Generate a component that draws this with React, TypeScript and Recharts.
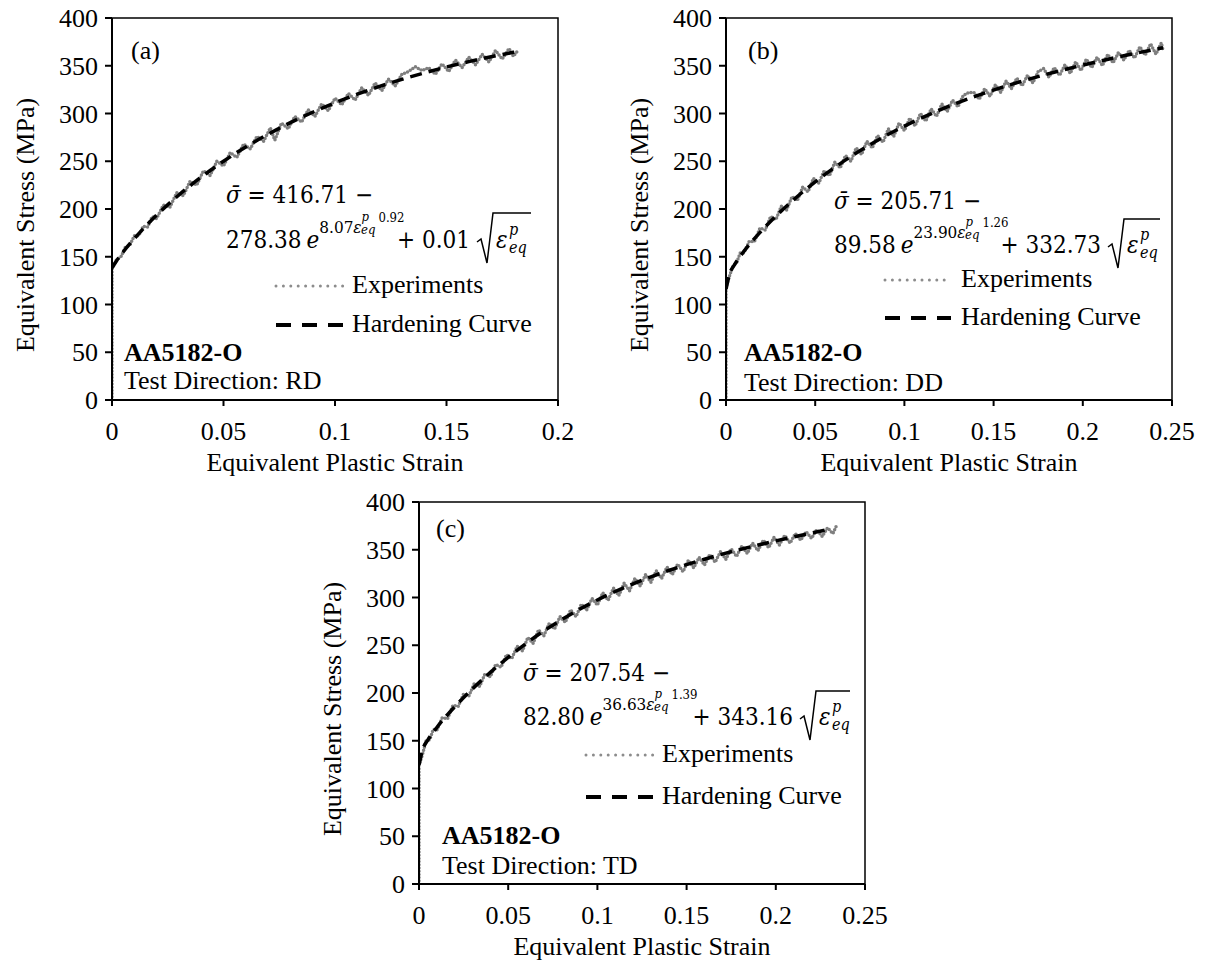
import React from 'react';
import { LineChart, Line, XAxis, YAxis, ReferenceArea } from 'recharts';

const SERIF = "'Liberation Serif', 'Times New Roman', serif";
const MATH = "'DejaVu Serif', serif";

const strainTicksA = [0, 0.05, 0.1, 0.15, 0.2];
const strainTicksBC = [0, 0.05, 0.1, 0.15, 0.2, 0.25];
const stressTicks = [0, 50, 100, 150, 200, 250, 300, 350, 400];

// Experiments (a) – RD : [strain, stress]
const expA: number[][] = [
  [0, 0], [0, 137], [0.002, 147], [0.004, 150], [0.006, 160], [0.008, 162], [0.01, 172], [0.012, 172],
  [0.014, 182], [0.016, 181], [0.018, 192], [0.02, 190], [0.023, 204], [0.026, 202], [0.029, 217],
  [0.032, 214], [0.035, 229], [0.038, 225], [0.041, 240], [0.044, 235], [0.047, 250], [0.05, 245],
  [0.053, 259], [0.056, 254], [0.059, 268], [0.062, 263], [0.065, 276], [0.068, 271], [0.071, 285],
  [0.073, 272], [0.076, 290], [0.079, 284], [0.082, 297], [0.085, 291], [0.088, 304], [0.091, 297],
  [0.094, 310], [0.097, 303], [0.1, 316], [0.103, 309], [0.106, 321], [0.109, 314], [0.112, 327],
  [0.115, 319], [0.118, 332], [0.121, 324], [0.124, 336], [0.127, 329], [0.13, 341], [0.133, 344],
  [0.136, 349], [0.139, 345], [0.142, 348], [0.145, 341], [0.148, 352], [0.151, 344], [0.154, 356],
  [0.157, 348], [0.16, 359], [0.163, 351], [0.166, 362], [0.169, 354], [0.172, 366], [0.175, 357],
  [0.178, 368], [0.18, 360], [0.182, 366],
];
const hardStrainA = [0, 0.002, 0.005, 0.01, 0.02, 0.03, 0.04, 0.05, 0.06, 0.07, 0.08, 0.09, 0.1, 0.11, 0.12, 0.13, 0.14, 0.15, 0.16, 0.17, 0.18, 0.183];
const hardStressA = [138.3, 145.6, 155.0, 169.0, 193.5, 214.7, 233.4, 250.0, 264.9, 278.3, 290.4, 301.3, 311.2, 320.2, 328.4, 335.8, 342.5, 348.7, 354.3, 359.4, 364.1, 365.4];

// Experiments (b) – DD
const expB: number[][] = [
  [0, 0], [0, 118], [0.002, 130], [0.004, 141], [0.006, 144], [0.008, 154], [0.01, 154], [0.013, 166],
  [0.016, 166], [0.019, 180], [0.022, 178], [0.025, 192], [0.028, 189], [0.031, 203], [0.034, 199],
  [0.037, 213], [0.04, 209], [0.043, 223], [0.046, 218], [0.049, 232], [0.052, 227], [0.055, 240],
  [0.058, 235], [0.061, 249], [0.064, 243], [0.067, 256], [0.07, 250], [0.073, 264], [0.076, 257],
  [0.079, 271], [0.082, 264], [0.085, 277], [0.088, 270], [0.091, 284], [0.094, 276], [0.097, 290],
  [0.1, 282], [0.103, 295], [0.106, 287], [0.109, 300], [0.112, 292], [0.115, 305], [0.118, 297],
  [0.121, 310], [0.124, 302], [0.127, 314], [0.13, 307], [0.133, 319], [0.136, 322], [0.139, 322],
  [0.142, 315], [0.145, 326], [0.148, 318], [0.151, 330], [0.154, 322], [0.157, 334], [0.16, 326],
  [0.163, 337], [0.166, 329], [0.169, 340], [0.172, 332], [0.175, 344], [0.178, 347], [0.181, 338],
  [0.184, 348], [0.187, 340], [0.19, 351], [0.193, 342], [0.196, 354], [0.199, 345], [0.202, 357],
  [0.205, 348], [0.208, 359], [0.211, 350], [0.214, 362], [0.217, 353], [0.22, 364], [0.223, 356],
  [0.226, 366], [0.229, 358], [0.232, 370], [0.235, 361], [0.238, 373], [0.241, 362], [0.244, 374],
  [0.245, 366],
];
const hardStrainB = [0, 0.002, 0.005, 0.01, 0.02, 0.03, 0.04, 0.05, 0.06, 0.07, 0.08, 0.09, 0.1, 0.11, 0.12, 0.14, 0.16, 0.18, 0.2, 0.22, 0.245];
const hardStressB = [116.1, 131.9, 142.3, 155.6, 177.4, 196.2, 213.1, 228.4, 242.3, 255.0, 266.6, 277.2, 286.8, 295.7, 303.8, 318.2, 330.5, 341.2, 350.7, 359.2, 368.9];

// Experiments (c) – TD
const expC: number[][] = [
  [0, 0], [0, 124], [0.002, 136], [0.004, 150], [0.006, 151], [0.008, 162], [0.01, 161], [0.013, 174],
  [0.016, 173], [0.019, 187], [0.022, 186], [0.025, 199], [0.028, 197], [0.031, 210], [0.034, 207],
  [0.037, 220], [0.04, 217], [0.043, 230], [0.046, 227], [0.049, 240], [0.052, 236], [0.055, 249],
  [0.058, 244], [0.061, 258], [0.064, 252], [0.067, 266], [0.07, 260], [0.073, 273], [0.076, 267],
  [0.079, 280], [0.082, 274], [0.085, 287], [0.088, 280], [0.091, 293], [0.094, 287], [0.097, 299],
  [0.1, 292], [0.103, 305], [0.106, 297], [0.109, 310], [0.112, 302], [0.115, 315], [0.118, 307],
  [0.121, 320], [0.124, 312], [0.127, 324], [0.13, 316], [0.133, 328], [0.136, 320], [0.139, 332],
  [0.142, 324], [0.145, 335], [0.148, 327], [0.151, 339], [0.154, 331], [0.157, 342], [0.16, 334],
  [0.163, 345], [0.166, 337], [0.169, 348], [0.172, 340], [0.175, 351], [0.178, 343], [0.181, 354],
  [0.184, 346], [0.187, 357], [0.19, 349], [0.193, 360], [0.196, 352], [0.199, 363], [0.202, 355],
  [0.205, 365], [0.208, 357], [0.211, 367], [0.214, 360], [0.217, 369], [0.22, 362], [0.223, 371],
  [0.226, 364], [0.229, 373], [0.232, 367], [0.234, 375],
];
const hardStrainC = [0, 0.002, 0.005, 0.01, 0.02, 0.03, 0.04, 0.05, 0.06, 0.07, 0.08, 0.09, 0.1, 0.11, 0.12, 0.13, 0.14, 0.16, 0.18, 0.2, 0.228];
const hardStressC = [124.7, 140.6, 150.9, 163.9, 185.5, 204.4, 221.6, 237.4, 251.9, 265.0, 276.9, 287.7, 297.4, 306.3, 314.3, 321.6, 328.3, 340.1, 350.3, 359.3, 370.6];

const xTitle = 'Equivalent Plastic Strain';
const yTitle = 'Equivalent Stress (MPa)';

const toPts = (arr: number[][]) => arr.map(([x, y]) => ({ x, y }));
const zipPts = (xs: number[], ys: number[]) => xs.map((x, i) => ({ x, y: ys[i] }));

const XTitle = (props: any) => {
  const vb = props.viewBox || {};
  const cx = vb.x + vb.width / 2;
  const cy = vb.y + 62;
  return (
    <text x={cx} y={cy} textAnchor="middle" dominantBaseline="central" fontFamily={SERIF} fontSize={26} fill="#000">
      {xTitle}
    </text>
  );
};

const YTitle = (props: any) => {
  const vb = props.viewBox || {};
  const cx = vb.x + vb.width - 87;
  const cy = vb.y + vb.height / 2 + 16;
  return (
    <text x={cx} y={cy} transform={`rotate(-90 ${cx} ${cy})`} textAnchor="middle" dominantBaseline="central"
      fontFamily={SERIF} fontSize={26} fill="#000">
      {yTitle}
    </text>
  );
};

function Panel({ left, top, xMax, xTicks, exp, hard }: any) {
  const tickStyle = { fill: '#000', fontSize: 26, fontFamily: SERIF };
  return (
    <div style={{ position: 'absolute', left, top, width: 600, height: 478 }}>
      <LineChart width={600} height={478} margin={{ top: 18, right: 42, bottom: 3, left: 12 }}>
        <ReferenceArea x1={0} x2={xMax} y1={0} y2={400} fill="none" stroke="#000" strokeWidth={1.5} />
        <XAxis type="number" dataKey="x" domain={[0, xMax]} ticks={xTicks} interval={0} allowDataOverflow
          axisLine={{ stroke: '#000', strokeWidth: 2 }} tickLine={{ stroke: '#000', strokeWidth: 2 }}
          tickSize={6} tickMargin={16} tick={tickStyle} height={75} label={<XTitle />} />
        <YAxis type="number" domain={[0, 400]} ticks={stressTicks} interval={0} allowDataOverflow width={100}
          axisLine={{ stroke: '#000', strokeWidth: 2 }} tickLine={{ stroke: '#000', strokeWidth: 2 }}
          tickSize={7} tickMargin={7} tick={tickStyle} label={<YTitle />} />
        <Line data={exp} dataKey="y" type="linear" stroke="#7f7f7f" strokeWidth={3.5}
          strokeDasharray="0 3.2" strokeLinecap="round" dot={false} activeDot={false} isAnimationActive={false} />
        <Line data={hard} dataKey="y" type="monotone" stroke="#000" strokeWidth={3.5}
          strokeDasharray="12 7" dot={false} activeDot={false} isAnimationActive={false} />
      </LineChart>
    </div>
  );
}

function Formula({ x, b1, b2, c0, a, k, n, c, sx, sr, ot }: any) {
  const fs = 24;
  return (
    <g fontFamily={MATH} fill="#000" style={{ fontStretch: 'condensed' }}>
      <text x={x} y={b1} fontSize={fs}>
        <tspan fontStyle="italic">σ̄</tspan>
        <tspan>{` = ${c0} −`}</tspan>
      </text>
      <text x={x} y={b2} fontSize={fs}>
        <tspan>{a}</tspan>
        <tspan dx={5} fontStyle="italic">e</tspan>
        <tspan dy={-15} fontSize={17}>{k}</tspan>
        <tspan fontSize={17} fontStyle="italic">ε</tspan>
        <tspan dy={-12} fontSize={13} fontStyle="italic">p</tspan>
        <tspan dx={-8} dy={13} fontSize={13} fontStyle="italic">eq</tspan>
        <tspan dx={3} dy={-12} fontSize={13}>{n}</tspan>
      </text>
      <text x={sx - 7} y={b2} fontSize={fs} textAnchor="end">{`+ ${c}`}</text>
      <path d={`M${sx},${b2 - 6} L${sx + 4},${b2 - 9} L${sx + 10},${b2 + 15} L${sx + 16},${ot} L${sr},${ot}`}
        stroke="#000" strokeWidth={1.5} fill="none" />
      <text x={sx + 19} y={b2} fontSize={fs} fontStyle="italic">ε</text>
      <text x={sx + 32} y={b2 - 13} fontSize={16} fontStyle="italic">p</text>
      <text x={sx + 32} y={b2 + 5} fontSize={16} fontStyle="italic">eq</text>
    </g>
  );
}

function Notes({ tag, tx, ty, lx, ly1, ly2, sx1, sx2, ex, ey1, ey2, dir }: any) {
  return (
    <g fontFamily={SERIF} fontSize={26} fill="#000">
      <text x={tx} y={ty}>{tag}</text>
      <line x1={sx1} x2={sx2} y1={ey1 - 7} y2={ey1 - 7} stroke="#8c8c8c" strokeWidth={3} strokeDasharray="0 7.4" strokeLinecap="round" />
      <text x={ex} y={ey1}>Experiments</text>
      <line x1={sx1} x2={sx2} y1={ey2 - 7} y2={ey2 - 7} stroke="#000" strokeWidth={4} strokeDasharray="15 11" />
      <text x={ex} y={ey2}>Hardening Curve</text>
      <text x={lx} y={ly1} fontWeight="bold">AA5182-O</text>
      <text x={lx} y={ly2}>{`Test Direction: ${dir}`}</text>
    </g>
  );
}

export default function App() {
  return (
    <div style={{ position: 'absolute', left: 0, top: 0, width: 1211, height: 962, overflow: 'hidden', background: '#fff' }}>
      <Panel left={0} top={0} xMax={0.2} xTicks={strainTicksA} exp={toPts(expA)} hard={zipPts(hardStrainA, hardStressA)} />
      <Panel left={614} top={0} xMax={0.25} xTicks={strainTicksBC} exp={toPts(expB)} hard={zipPts(hardStrainB, hardStressB)} />
      <Panel left={307} top={484} xMax={0.25} xTicks={strainTicksBC} exp={toPts(expC)} hard={zipPts(hardStrainC, hardStressC)} />
      <svg width={1211} height={962} style={{ position: 'absolute', left: 0, top: 0, pointerEvents: 'none' }}>
        <Notes tag="(a)" tx={131} ty={59} lx={124} ly1={361} ly2={389} sx1={276} sx2={343} ex={352} ey1={293} ey2={332} dir="RD" />
        <Formula x={226} b1={203} b2={248} c0="416.71" a="278.38" k="8.07" n="0.92" c="0.01" sx={477} sr={531} ot={213} />
        <Notes tag="(b)" tx={748} ty={59} lx={744} ly1={361} ly2={391} sx1={885} sx2={951} ex={961} ey1={287} ey2={325} dir="DD" />
        <Formula x={834} b1={209} b2={253} c0="205.71" a="89.58" k="23.90" n="1.26" c="332.73" sx={1108} sr={1160} ot={219} />
        <Notes tag="(c)" tx={436} ty={537} lx={442} ly1={844} ly2={874} sx1={586} sx2={653} ex={662} ey1={762} ey2={804} dir="TD" />
        <Formula x={523} b1={681} b2={725} c0="207.54" a="82.80" k="36.63" n="1.39" c="343.16" sx={800} sr={850} ot={691} />
      </svg>
    </div>
  );
}
